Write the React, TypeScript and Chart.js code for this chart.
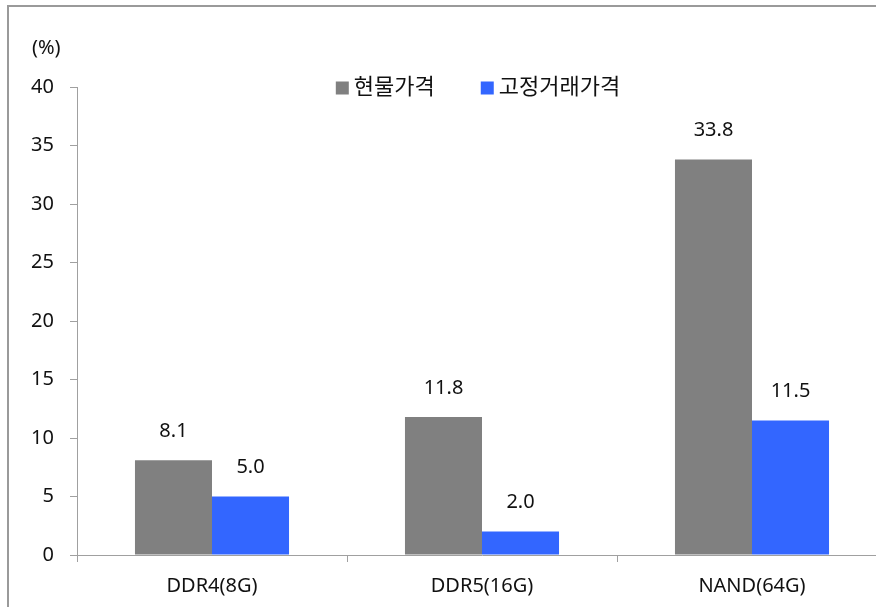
import React, { useEffect, useRef } from "react";
import { Chart, registerables } from "chart.js";

Chart.register(...registerables);

const categories = ["DDR4(8G)", "DDR5(16G)", "NAND(64G)"];
const spotLabel = "현물가격";
const contractLabel = "고정거래가격";
const spotValues = [8.1, 11.8, 33.8];
const contractValues = [5.0, 2.0, 11.5];
const yTicks = [0, 5, 10, 15, 20, 25, 30, 35, 40];
const unitLabel = "(%)";

const FONT = '"Noto Sans", "Noto Sans CJK KR", sans-serif';
const TEXT = "#111";
const GRAY = "#808080";
const BLUE = "#3366FF";

const labelPlugin = {
  id: "valueLabels",
  afterDatasetsDraw(chart: any) {
    const ctx = chart.ctx;
    ctx.save();
    ctx.font = `20px ${FONT}`;
    ctx.fillStyle = TEXT;
    ctx.textAlign = "center";
    ctx.textBaseline = "middle";
    chart.data.datasets.forEach((ds: any, i: number) => {
      const meta = chart.getDatasetMeta(i);
      meta.data.forEach((el: any, j: number) => {
        ctx.fillText(Number(ds.data[j]).toFixed(1), el.x, el.y - 29);
      });
    });
    ctx.restore();
  },
};

const legendPlugin = {
  id: "customLegend",
  afterDraw(chart: any) {
    const ctx = chart.ctx;
    const area = chart.chartArea;
    ctx.save();
    ctx.font = `22px ${FONT}`;
    ctx.textBaseline = "middle";
    ctx.textAlign = "left";
    const box = 13;
    const gap = 5;
    const itemGap = 46;
    const items = chart.data.datasets.map((ds: any) => ({
      label: ds.label,
      color: ds.backgroundColor,
      w: ctx.measureText(ds.label).width,
    }));
    let total = 0;
    items.forEach((it: any, i: number) => {
      total += box + gap + it.w + (i < items.length - 1 ? itemGap : 0);
    });
    let x = (area.left + area.right) / 2 - 4 - total / 2;
    const y = area.top + 1;
    items.forEach((it: any) => {
      ctx.fillStyle = it.color;
      ctx.fillRect(x, y - box / 2, box, box);
      x += box + gap;
      ctx.fillStyle = TEXT;
      ctx.fillText(it.label, x, y);
      x += it.w + itemGap;
    });
    ctx.font = `20px ${FONT}`;
    ctx.fillText(unitLabel, area.left - 45, area.top - 39);
    ctx.restore();
  },
};

export default function App() {
  const ref = useRef<HTMLCanvasElement | null>(null);
  useEffect(() => {
    if (!ref.current) return;
    const chart = new Chart(ref.current, {
      type: "bar",
      data: {
        labels: categories,
        datasets: [
          { label: spotLabel, data: spotValues, backgroundColor: GRAY, borderWidth: 0 },
          { label: contractLabel, data: contractValues, backgroundColor: BLUE, borderWidth: 0 },
        ],
      },
      options: {
        responsive: false,
        animation: false,
        devicePixelRatio: 1,
        layout: { padding: { top: 87, right: 13, left: 0, bottom: 0 } },
        datasets: { bar: { categoryPercentage: 0.5706, barPercentage: 1 } },
        plugins: { legend: { display: false }, tooltip: { enabled: false } },
        scales: {
          x: {
            grid: { display: true, drawOnChartArea: false, drawTicks: true, tickLength: 7, color: "#a0a0a0", offset: true },
            border: { display: true, color: "#a0a0a0", width: 1 },
            ticks: { color: TEXT, font: { family: FONT, size: 20 }, padding: 12, maxRotation: 0 },
            afterFit(scale: any) { scale.height = 52; },
          },
          y: {
            min: 0,
            max: 40,
            afterBuildTicks(scale: any) { scale.ticks = yTicks.map((v) => ({ value: v })); },
            grid: { display: true, drawOnChartArea: false, drawTicks: true, tickLength: 7, color: "#a0a0a0" },
            border: { display: true, color: "#a0a0a0", width: 1 },
            ticks: { color: TEXT, font: { family: FONT, size: 20 }, padding: 16 },
            afterFit(scale: any) { scale.width = 77; },
          },
        },
      },
      plugins: [labelPlugin, legendPlugin],
    } as any);
    return () => chart.destroy();
  }, []);
  return (
    <div style={{ position: "fixed", left: 0, top: 0, width: 876, height: 607, overflow: "hidden", background: "#fff" }}>
      <div style={{ position: "absolute", left: 7, top: 5, width: 1000, height: 1000, border: "2px solid #9a9a9a", boxSizing: "border-box" }} />
      <canvas ref={ref} width={900} height={607} style={{ position: "absolute", left: 0, top: 0, width: 900, height: 607 }} />
    </div>
  );
}
